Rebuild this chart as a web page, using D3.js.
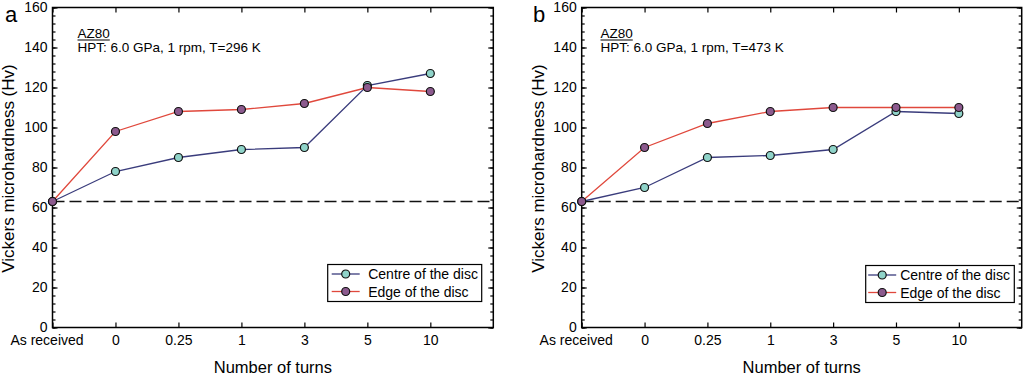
<!DOCTYPE html>
<html>
<head>
<meta charset="utf-8">
<title>Vickers microhardness vs number of turns</title>
<script src="https://cdn.jsdelivr.net/npm/d3@7/dist/d3.min.js"></script>
<style>
  body { margin: 0; background: #fff; }
  svg { display: block; font-family: "Liberation Sans", Arial, sans-serif; }
  .axis path.domain { display: none; }
  .axis line { stroke: #000; stroke-width: 1.2; }
  .axis text { font-size: 14px; fill: #000; }
</style>
</head>
<body>
<script>
// data
var categories = ["As received", "0", "0.25", "1", "3", "5", "10"];
var yTicks = [0, 20, 40, 60, 80, 100, 120, 140, 160];
var centreA = [63, 78, 85, 89, 90, 121, 127];
var edgeA   = [63, 98, 108, 109, 112, 120, 118];
var centreB = [63, 70, 85, 86, 89, 108, 107];
var edgeB   = [63, 90, 102, 108, 110, 110, 110];
var asReceived = 63;
var seriesNames = ["Centre of the disc", "Edge of the disc"];

var width = 1024, height = 381;
var plotTop = 7.5, plotBottom = 327.5;
var lineColors = ["#3a3c7c", "#e0483c"],
    fillColors = ["#8fd3c9", "#8c5a8e"];

var panels = [
  { letter: "a", lx: 5, x0: 52.5, x1: 493.3, tx: 77.5, ylab: 14,
    note: "HPT: 6.0 GPa, 1 rpm, T=296 K", series: [centreA, edgeA],
    legend: { x: 327.7, y: 264.5, w: 154, h: 37, s: 4, t: 40.5 } },
  { letter: "b", lx: 533, x0: 581.7, x1: 1021.7, tx: 600.5, ylab: 543.5,
    note: "HPT: 6.0 GPa, 1 rpm, T=473 K", series: [centreB, edgeB],
    legend: { x: 865.7, y: 265.5, w: 148.6, h: 37, s: 2.5, t: 34.5 } }
];

var svg = d3.select("body").append("svg")
    .attr("width", width)
    .attr("height", height);
svg.append("rect").attr("width", width).attr("height", height).attr("fill", "#fff");

var y = d3.scaleLinear().domain([0, 160]).range([plotBottom, plotTop]);

function drawPanel(p) {
  var g = svg.append("g");
  var x = d3.scaleLinear().domain([0, 7]).range([p.x0, p.x1]);
  var idx = d3.range(categories.length);

  // minor ticks (every 4 units) left and right
  g.append("g").attr("class", "axis")
    .attr("transform", "translate(" + p.x0 + ",0)")
    .call(d3.axisLeft(y).tickValues(d3.range(0, 161, 4)).tickSize(-3).tickFormat(""));
  g.append("g").attr("class", "axis")
    .attr("transform", "translate(" + p.x1 + ",0)")
    .call(d3.axisRight(y).tickValues(d3.range(0, 161, 4)).tickSize(-3).tickFormat(""));

  // major y ticks
  g.append("g").attr("class", "axis")
    .attr("transform", "translate(" + p.x0 + ",0)")
    .call(d3.axisLeft(y).tickValues(yTicks).tickSizeInner(-5).tickSizeOuter(0).tickPadding(5));
  g.append("g").attr("class", "axis")
    .attr("transform", "translate(" + p.x1 + ",0)")
    .call(d3.axisRight(y).tickValues(yTicks).tickSize(-5).tickFormat(""));

  // category ticks bottom and top
  var xb = g.append("g").attr("class", "axis")
    .attr("transform", "translate(0," + plotBottom + ")")
    .call(d3.axisBottom(x).tickValues(idx).tickSizeInner(-5).tickSizeOuter(0).tickPadding(8)
      .tickFormat(function(i) { return categories[i]; }));
  xb.selectAll(".tick text").filter(function(i) { return i === 0; }).attr("dx", -6);
  g.append("g").attr("class", "axis")
    .attr("transform", "translate(0," + plotTop + ")")
    .call(d3.axisTop(x).tickValues(idx).tickSize(-5).tickFormat(""));

  // frame
  g.append("rect")
    .attr("x", p.x0).attr("y", plotTop)
    .attr("width", p.x1 - p.x0).attr("height", plotBottom - plotTop)
    .attr("fill", "none").attr("stroke", "#000").attr("stroke-width", 1.5);

  // dashed line for as-received hardness
  g.append("line")
    .attr("x1", p.x0).attr("x2", p.x1)
    .attr("y1", y(asReceived)).attr("y2", y(asReceived))
    .attr("stroke", "#111").attr("stroke-width", 1.4)
    .attr("stroke-dasharray", "12,5");

  var line = d3.line().x(function(d, i) { return x(i); }).y(function(d) { return y(d); });

  p.series.forEach(function(vals, s) {
    g.append("path").datum(vals)
      .attr("d", line)
      .attr("fill", "none")
      .attr("stroke", lineColors[s])
      .attr("stroke-width", 1.3);
  });
  p.series.forEach(function(vals, s) {
    g.selectAll(null).data(vals).enter().append("circle")
      .attr("cx", function(d, i) { return x(i); })
      .attr("cy", function(d) { return y(d); })
      .attr("r", 4)
      .attr("fill", fillColors[s])
      .attr("stroke", "#111")
      .attr("stroke-width", 1.2);
  });

  // axis titles
  g.append("text")
    .attr("transform", "translate(" + p.ylab + "," + ((plotTop + plotBottom) / 2 + 1) + ") rotate(-90)")
    .attr("text-anchor", "middle")
    .attr("font-size", "17px")
    .text("Vickers microhardness (Hv)");
  g.append("text")
    .attr("x", (p.x0 + p.x1) / 2).attr("y", 373)
    .attr("text-anchor", "middle")
    .attr("font-size", "16.5px")
    .text("Number of turns");

  // panel letter
  g.append("text")
    .attr("x", p.lx).attr("y", 21.5)
    .attr("font-size", "22px")
    .text(p.letter);

  // annotation
  var az = g.append("text")
    .attr("x", p.tx).attr("y", 38)
    .attr("font-size", "13.5px")
    .text("AZ80");
  var w = az.node().getComputedTextLength();
  g.append("line")
    .attr("x1", p.tx).attr("x2", p.tx + w)
    .attr("y1", 40).attr("y2", 40)
    .attr("stroke", "#000").attr("stroke-width", 1);
  g.append("text")
    .attr("x", p.tx).attr("y", 52)
    .attr("font-size", "13.5px")
    .text(p.note);

  // legend
  var L = p.legend;
  var lg = g.append("g").attr("transform", "translate(" + L.x + "," + L.y + ")");
  lg.append("rect")
    .attr("width", L.w).attr("height", L.h)
    .attr("fill", "#fff").attr("stroke", "#000").attr("stroke-width", 1.2);
  seriesNames.forEach(function(name, s) {
    var cy = 9.5 + s * 17.5;
    lg.append("line")
      .attr("x1", L.s).attr("x2", L.s + 28)
      .attr("y1", cy).attr("y2", cy)
      .attr("stroke", lineColors[s]).attr("stroke-width", 1.3);
    lg.append("circle")
      .attr("cx", L.s + 14).attr("cy", cy).attr("r", 4)
      .attr("fill", fillColors[s]).attr("stroke", "#111").attr("stroke-width", 1.2);
    lg.append("text")
      .attr("x", L.t).attr("y", cy + 5)
      .attr("font-size", "14px")
      .text(name);
  });
}

panels.forEach(drawPanel);
</script>
</body>
</html>
